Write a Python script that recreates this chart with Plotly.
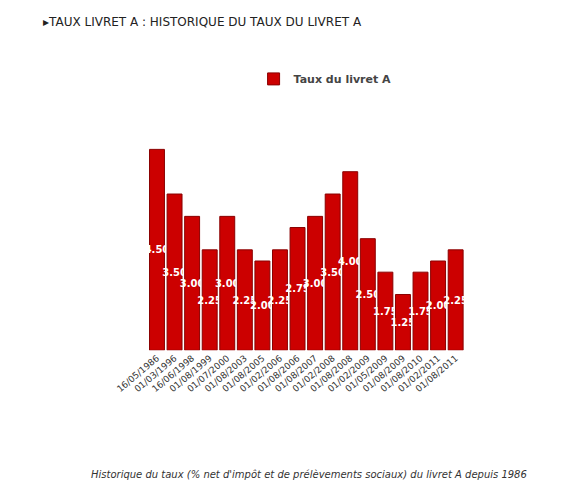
import plotly.graph_objects as go

dates = ["16/05/1986","01/03/1996","16/06/1998","01/08/1999","01/07/2000","01/08/2003",
         "01/08/2005","01/02/2006","01/08/2006","01/08/2007","01/02/2008","01/08/2008",
         "01/02/2009","01/05/2009","01/08/2009","01/08/2010","01/02/2011","01/08/2011"]
rates = [4.50,3.50,3.00,2.25,3.00,2.25,2.00,2.25,2.75,3.00,3.50,4.00,2.50,1.75,1.25,1.75,2.00,2.25]

fig = go.Figure(go.Bar(
    x=dates, y=rates, name="<b>Taux du livret A</b>",
    marker=dict(color="#cc0000", line=dict(color="#8a0000", width=1)),
    text=[f"<b>{v:.2f}</b>" for v in rates], textposition="inside", insidetextanchor="middle",
    textangle=0, constraintext="none",
    textfont=dict(color="white", size=10, family="DejaVu Sans"),
    showlegend=True))

fig.update_layout(
    width=569, height=489, paper_bgcolor="white", plot_bgcolor="white",
    margin=dict(l=0, r=0, t=0, b=0),
    xaxis=dict(domain=[0.2, 0.79], tickangle=-40, tickfont=dict(size=9, color="#333", family="DejaVu Sans"),
               showgrid=False, showline=False, ticks=""),
    yaxis=dict(domain=[0.3, 0.72], visible=False, range=[0, 4.6]),
    bargap=0.15,
    legend=dict(x=0.53, y=0.855, xanchor="center", yanchor="middle", orientation="h",
                font=dict(size=11, color="#444", family="DejaVu Sans")),
    annotations=[
        dict(text="▸TAUX LIVRET A : HISTORIQUE DU TAUX DU LIVRET A", x=0.0, y=0.99,
             xref="paper", yref="paper", xanchor="left", yanchor="top", showarrow=False,
             font=dict(size=12, color="#222", family="DejaVu Sans")),
        dict(text="<i>Historique du taux (% net d'impôt et de prélèvements sociaux) du livret A depuis 1986</i>",
             x=0.5, y=0.045, xref="paper", yref="paper", xanchor="center", yanchor="middle",
             showarrow=False, font=dict(size=10, color="#333", family="DejaVu Sans")),
    ])
fig.write_html("out.html")
